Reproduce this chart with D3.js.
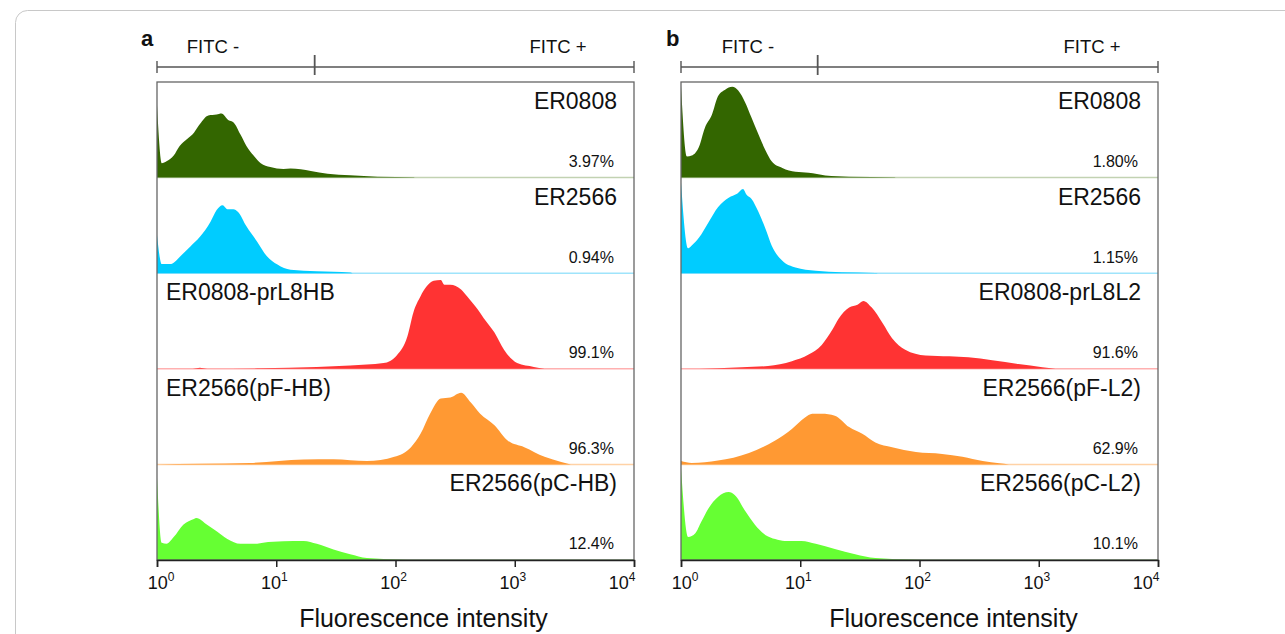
<!DOCTYPE html>
<html>
<head>
<meta charset="utf-8">
<script src="https://cdn.jsdelivr.net/npm/d3@7"></script>
<style>
  body { margin: 0; background: #fff; }
  text { font-family: "Liberation Sans", Arial, sans-serif; fill: #111; }
</style>
</head>
<body>
<div id="chart"></div>
<script>
// histograms: [log10 fluorescence intensity, relative count (% of row height)]
const aER0808 = [[0,76],[0.04,15],[0.08,17],[0.14,23],[0.19,33],[0.25,40],[0.31,47],[0.36,56],[0.43,65],[0.50,66],[0.54,67],[0.60,60],[0.64,58],[0.70,45],[0.75,33],[0.81,23],[0.87,15],[0.95,11],[1.06,9],[1.12,9.5],[1.29,7],[1.43,4],[1.62,2.5],[1.85,1],[2.15,0.3],[2.16,0]];
const aER2566 = [[0,40],[0.04,9.5],[0.11,9.5],[0.15,12],[0.19,17],[0.28,28],[0.36,38],[0.45,54],[0.50,66],[0.55,71],[0.59,67],[0.64,67],[0.68,64],[0.75,49],[0.84,33],[0.92,18],[1.01,9],[1.12,3.5],[1.34,2],[1.62,0.7],[1.64,0]];
const aPrL8HB = [[0,0],[0.30,0],[0.36,1],[0.42,0],[0.87,0.5],[1.34,2],[1.62,3.5],[1.90,6],[2.01,14],[2.10,34],[2.15,59],[2.21,76],[2.26,86],[2.32,92],[2.38,93],[2.41,88],[2.46,88],[2.55,83],[2.60,76],[2.69,62],[2.74,53],[2.83,38],[2.91,20],[3.02,6],[3.16,2],[3.25,0]];
const aPFHB = [[0,0],[0.36,0.7],[0.78,1.5],[1.23,5],[1.48,5.5],[1.76,3.5],[1.99,8],[2.13,18],[2.21,32],[2.29,53],[2.38,69],[2.46,70],[2.55,75],[2.63,65],[2.71,53],[2.83,41],[2.94,25],[3.08,18],[3.25,8],[3.39,2.5],[3.47,0]];
const aPCHB = [[0,86],[0.04,18],[0.08,17],[0.14,24],[0.22,37],[0.31,43],[0.33,44],[0.42,37],[0.50,30],[0.59,22],[0.70,17],[0.84,17],[0.89,18],[1.06,19.5],[1.23,20],[1.34,17],[1.48,11],[1.62,6],[1.76,2],[1.90,1],[2.10,0]];

const bER0808 = [[0,96],[0.05,22],[0.09,23],[0.15,32],[0.20,52],[0.26,66],[0.31,85],[0.37,92],[0.43,95],[0.48,91],[0.54,78],[0.59,63],[0.65,45],[0.71,28],[0.76,17],[0.85,10],[0.96,6],[1.07,5],[1.21,2.3],[1.41,1],[1.78,0.3],[1.80,0]];
const bER2566 = [[0,95],[0.06,26],[0.09,29],[0.15,37],[0.23,53],[0.31,69],[0.40,79],[0.47,83],[0.52,88],[0.55,82],[0.59,78],[0.65,64],[0.71,46],[0.76,29],[0.85,13],[0.96,6],[1.13,2.5],[1.35,1],[1.63,0.3],[1.65,0]];
const bPrL8L2 = [[0,0],[0.31,0.7],[0.51,1.7],[0.73,3],[0.93,8],[1.07,15],[1.18,25],[1.27,41],[1.32,52],[1.41,64],[1.48,67],[1.53,71],[1.60,64],[1.69,48],[1.77,32],[1.88,20],[2.05,14],[2.25,13],[2.41,12],[2.61,9],[2.83,5],[3.03,1.7],[3.14,0]];
const bPFL2 = [[0,3.5],[0.09,1.5],[0.31,4],[0.57,12],[0.79,25],[0.93,37],[1.04,49],[1.10,53],[1.18,53],[1.29,51],[1.41,39],[1.52,32],[1.63,23],[1.77,18],[1.97,13],[2.19,11],[2.36,8],[2.53,3.5],[2.67,1.3],[2.75,0]];
const bPCL2 = [[0,96],[0.06,24],[0.12,28],[0.17,40],[0.23,54],[0.31,66],[0.40,71],[0.45,68],[0.54,51],[0.62,37],[0.71,26],[0.79,22],[0.87,20],[1.01,20],[1.13,17],[1.29,11.5],[1.46,6],[1.63,2],[1.91,0.5],[2.02,0]];

const samplesA = ["ER0808", "ER2566", "ER0808-prL8HB", "ER2566(pF-HB)", "ER2566(pC-HB)"];
const samplesB = ["ER0808", "ER2566", "ER0808-prL8L2", "ER2566(pF-L2)", "ER2566(pC-L2)"];
const pctA = ["3.97%", "0.94%", "99.1%", "96.3%", "12.4%"];
const pctB = ["1.80%", "1.15%", "91.6%", "62.9%", "10.1%"];
const seriesA = [aER0808, aER2566, aPrL8HB, aPFHB, aPCHB];
const seriesB = [bER0808, bER2566, bPrL8L2, bPFL2, bPCL2];
const gateA = 21;   // FITC -/+ boundary
const gateB = 14;
const decades = [1, 10, 100, 1000, 10000];
const exponents = ["0", "1", "2", "3", "4"];

const fills = ["#336600", "#00ccff", "#ff3333", "#ff9933", "#66ff33"];
const baseLines = ["#c2d2b2", "#9fe4fb", "#ffb0b0", "#ffd2a6", "#bff5a8"];

const width = 1285, height = 634;
const plotTop = 82, plotBottom = 560;

const svg = d3.select("#chart").append("svg")
    .attr("width", width)
    .attr("height", height);

// card border
svg.append("rect")
    .attr("x", 15.5).attr("y", 10.5)
    .attr("width", 1400).attr("height", 700)
    .attr("rx", 12)
    .style("fill", "none")
    .style("stroke", "#c8c8c8");

function drawPanel(p) {
    const g = svg.append("g");
    const x = d3.scaleLog().domain([1, 10000]).range([p.left, p.right]);
    const rows = d3.scaleBand().domain(d3.range(p.series.length)).range([plotTop, plotBottom]);

    p.series.forEach((s, i) => {
        const y = d3.scaleLinear().domain([0, 100])
            .range([rows(i) + rows.bandwidth(), rows(i)]);

        g.append("line")
            .attr("x1", p.left).attr("x2", p.right)
            .attr("y1", y(0)).attr("y2", y(0))
            .style("stroke", baseLines[i])
            .style("stroke-width", 1.5);

        const area = d3.area()
            .x(d => x(10 ** d[0]))
            .y0(y(0))
            .y1(d => y(d[1]))
            .curve(d3.curveMonotoneX);

        g.append("path")
            .datum(s)
            .attr("d", area)
            .style("fill", fills[i]);

        const anchor = p.anchors[i];
        g.append("text")
            .attr("x", anchor === "end" ? p.right - 17 : p.left + 9)
            .attr("y", rows(i) + 27)
            .style("text-anchor", anchor)
            .style("font-size", "23px")
            .text(p.samples[i]);

        g.append("text")
            .attr("x", p.right - 20)
            .attr("y", rows(i) + 85)
            .style("text-anchor", "end")
            .style("font-size", "16px")
            .text(p.pcts[i]);
    });

    // frame
    g.append("rect")
        .attr("x", p.left).attr("y", plotTop)
        .attr("width", p.right - p.left).attr("height", plotBottom - plotTop)
        .style("fill", "none")
        .style("stroke", "#666")
        .style("stroke-width", 1.3);

    // x axis
    const minor = x.ticks().filter(v => !decades.includes(v));
    const ax = g.append("g").attr("transform", `translate(0,${plotBottom})`);
    ax.call(d3.axisBottom(x).tickValues(minor).tickSize(4).tickFormat(""));
    ax.call(d3.axisBottom(x).tickValues(decades).tickSize(7).tickFormat(""));
    ax.selectAll("path, line").style("stroke", "#222").style("stroke-width", 1.5);

    decades.forEach((v, i) => {
        const shift = i === 0 ? 6 : (i === decades.length - 1 ? -10 : 0);
        const t = g.append("text")
            .attr("x", x(v) + shift - 2)
            .attr("y", plotBottom + 29)
            .style("text-anchor", "middle")
            .style("font-size", "18px");
        t.append("tspan").text("10");
        t.append("tspan").attr("dy", -8).style("font-size", "12px").text(exponents[i]);
    });

    g.append("text")
        .attr("x", (p.left + p.right) / 2 + p.titleShift)
        .attr("y", 627)
        .style("text-anchor", "middle")
        .style("font-size", "25px")
        .text("Fluorescence intensity");

    // FITC gate bar
    const barY = 67;
    const bar = g.append("g").style("stroke", "#555").style("stroke-width", 1.4);
    bar.append("line").attr("x1", p.left).attr("x2", p.right).attr("y1", barY).attr("y2", barY);
    [p.left, p.right].forEach(v => {
        bar.append("line").attr("x1", v).attr("x2", v).attr("y1", barY - 6).attr("y2", barY + 6);
    });
    bar.append("line")
        .attr("x1", x(p.gate)).attr("x2", x(p.gate))
        .attr("y1", barY - 12).attr("y2", barY + 8)
        .style("stroke-width", 1.8);

    g.append("text")
        .attr("x", p.minusX).attr("y", 53)
        .style("text-anchor", "middle").style("font-size", "18.5px")
        .text("FITC -");
    g.append("text")
        .attr("x", p.plusX).attr("y", 53)
        .style("text-anchor", "middle").style("font-size", "18.5px")
        .text("FITC +");

    g.append("text")
        .attr("x", p.letterX).attr("y", 46)
        .style("font-size", "22px").style("font-weight", "bold")
        .text(p.letter);
}

drawPanel({
    left: 157, right: 634, letter: "a", letterX: 141,
    samples: samplesA, pcts: pctA, series: seriesA, gate: gateA,
    anchors: ["end", "end", "start", "start", "end"],
    minusX: 213, plusX: 558, titleShift: 28
});

drawPanel({
    left: 681, right: 1158, letter: "b", letterX: 666,
    samples: samplesB, pcts: pctB, series: seriesB, gate: gateB,
    anchors: ["end", "end", "end", "end", "end"],
    minusX: 748, plusX: 1092, titleShift: 34
});
</script>
</body>
</html>
